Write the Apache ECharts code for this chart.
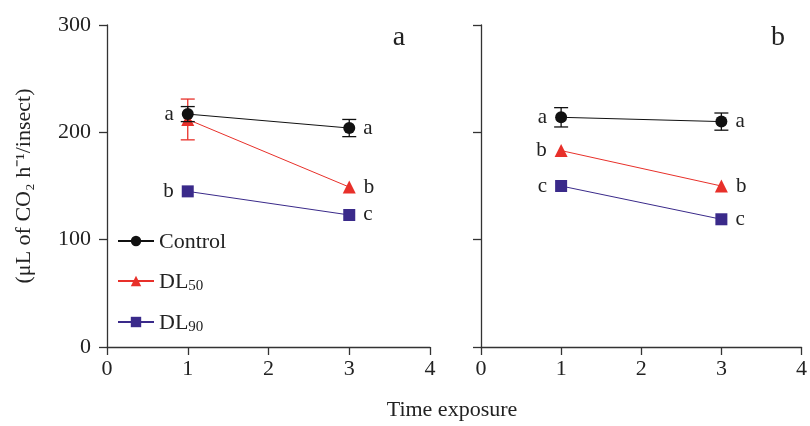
<!DOCTYPE html>
<html><head><meta charset="utf-8">
<script src="https://cdn.jsdelivr.net/npm/echarts@6/dist/echarts.min.js"></script>
<style>html,body{margin:0;padding:0;background:#fff}#c{width:810px;height:426px}</style>
</head><body><div id="c"></div>
<script>
// ---- data ----
const times = [1, 3];
const yTicks = [0, 100, 200, 300];
const xTicks = [0, 1, 2, 3, 4];
const seriesNames = ['Control', 'DL50', 'DL90'];
// panel a
const ctrlA = [217, 204];
const ctrlAErr = [7, 8];
const dl50A = [212, 149];
const dl50AErr = [19, 0];
const dl90A = [145, 123];
const dl90AErr = [0, 0];
const ctrlALetters = ['a', 'a'];
const dl50ALetters = ['', 'b'];
const dl90ALetters = ['b', 'c'];
// panel b
const ctrlB = [214, 210];
const ctrlBErr = [9, 8];
const dl50B = [183, 150];
const dl50BErr = [0, 0];
const dl90B = [150, 119];
const dl90BErr = [0, 0];
const ctrlBLetters = ['a', 'a'];
const dl50BLetters = ['b', 'b'];
const dl90BLetters = ['c', 'c'];
const panelLabels = ['a', 'b'];

// ---- style ----
const FONT = 'Liberation Serif';
const colors = {Control: '#111111', DL50: '#e8302a', DL90: '#3a2a8a'};
const symbols = {Control: 'circle', DL50: 'triangle', DL90: 'rect'};
const sizes = {Control: 12, DL50: 13, DL90: 12};

function pts(vals, letters) {
  return times.map((t, i) => ({
    value: [t, vals[i]],
    label: {
      show: !!letters[i],
      formatter: letters[i],
      position: i === 0 ? 'left' : 'right',
      distance: 8
    }
  }));
}
function lineSeries(name, vals, letters, idx, z) {
  return {
    type: 'line', name: name, xAxisIndex: idx, yAxisIndex: idx,
    data: pts(vals, letters),
    symbol: symbols[name], symbolSize: sizes[name],
    lineStyle: {color: colors[name], width: 1},
    itemStyle: {color: colors[name]},
    label: {fontFamily: FONT, fontSize: 21, color: '#222'},
    z: z, animation: false
  };
}
function errSeries(name, vals, errs, idx, z) {
  return {
    type: 'custom', xAxisIndex: idx, yAxisIndex: idx,
    data: times.map((t, i) => [t, vals[i], errs[i]]),
    renderItem: function (params, api) {
      const x = api.value(0), y = api.value(1), e = api.value(2);
      if (!e) return null;
      const top = api.coord([x, y + e]), bot = api.coord([x, y - e]);
      const w = 7;
      const st = {stroke: colors[name], lineWidth: 1.3};
      return {type: 'group', children: [
        {type: 'line', shape: {x1: top[0], y1: top[1], x2: bot[0], y2: bot[1]}, style: st},
        {type: 'line', shape: {x1: top[0] - w, y1: top[1], x2: top[0] + w, y2: top[1]}, style: st},
        {type: 'line', shape: {x1: bot[0] - w, y1: bot[1], x2: bot[0] + w, y2: bot[1]}, style: st}
      ]};
    },
    z: z, animation: false, silent: true
  };
}

const axisLine = {show: true, lineStyle: {color: '#333', width: 1.3}};
const axisTick = {show: true, inside: false, length: 8, lineStyle: {color: '#333', width: 1.3}};
const labelStyle = {fontFamily: FONT, fontSize: 22, color: '#222'};

function xAx(idx) {
  return {type: 'value', gridIndex: idx, min: 0, max: 4, interval: 1,
    axisLine: axisLine, axisTick: axisTick, splitLine: {show: false},
    axisLabel: Object.assign({margin: 11}, labelStyle)};
}
function yAx(idx, showLabels) {
  return {type: 'value', gridIndex: idx, min: 0, max: 300, interval: 100,
    axisLine: axisLine, axisTick: axisTick, splitLine: {show: false},
    axisLabel: Object.assign({show: showLabels, margin: 16}, labelStyle),
    name: showLabels ? '(μL of CO₂ h⁻¹/insect)' : '',
    nameLocation: 'middle', nameGap: 72, nameRotate: 90,
    nameTextStyle: {fontFamily: FONT, fontSize: 22, color: '#222'}};
}

const option = {
  backgroundColor: '#fff',
  animation: false,
  grid: [
    {left: 107, top: 25, width: 323, height: 322},
    {left: 481, top: 25, width: 322, height: 322}
  ],
  xAxis: [xAx(0), xAx(1)],
  yAxis: [yAx(0, true), yAx(1, false)],
  legend: {
    orient: 'vertical', left: 112, top: 226, itemGap: 18,
    itemWidth: 36, itemHeight: 13,
    data: seriesNames,
    formatter: function (n) {
      if (n === 'Control') return '{m|Control}';
      return '{m|DL}{s|' + n.slice(2) + '}';
    },
    textStyle: {
      rich: {
        m: {fontFamily: FONT, fontSize: 22, color: '#222', lineHeight: 24, verticalAlign: 'bottom'},
        s: {fontFamily: FONT, fontSize: 15, color: '#222', lineHeight: 17, verticalAlign: 'bottom', padding: [0, 0, -1, 0]}
      }
    }
  },
  graphic: [
    {type: 'text', x: 452, y: 410, style: {text: 'Time exposure', font: '22px "Liberation Serif"', fill: '#222', align: 'center', verticalAlign: 'middle'}},
    {type: 'text', x: 399, y: 38, style: {text: panelLabels[0], font: '28px "Liberation Serif"', fill: '#222', align: 'center', verticalAlign: 'middle'}},
    {type: 'text', x: 778, y: 38, style: {text: panelLabels[1], font: '28px "Liberation Serif"', fill: '#222', align: 'center', verticalAlign: 'middle'}}
  ],
  series: [
    errSeries('DL90', dl90A, dl90AErr, 0, 2),
    errSeries('DL50', dl50A, dl50AErr, 0, 2),
    errSeries('Control', ctrlA, ctrlAErr, 0, 4),
    errSeries('DL90', dl90B, dl90BErr, 1, 2),
    errSeries('DL50', dl50B, dl50BErr, 1, 2),
    errSeries('Control', ctrlB, ctrlBErr, 1, 4),
    lineSeries('Control', ctrlA, ctrlALetters, 0, 5),
    lineSeries('DL50', dl50A, dl50ALetters, 0, 3),
    lineSeries('DL90', dl90A, dl90ALetters, 0, 3),
    lineSeries('Control', ctrlB, ctrlBLetters, 1, 5),
    lineSeries('DL50', dl50B, dl50BLetters, 1, 3),
    lineSeries('DL90', dl90B, dl90BLetters, 1, 3)
  ]
};
const chart = echarts.init(document.getElementById('c'), null, {renderer: 'canvas'});
chart.setOption(option);
</script></body></html>
